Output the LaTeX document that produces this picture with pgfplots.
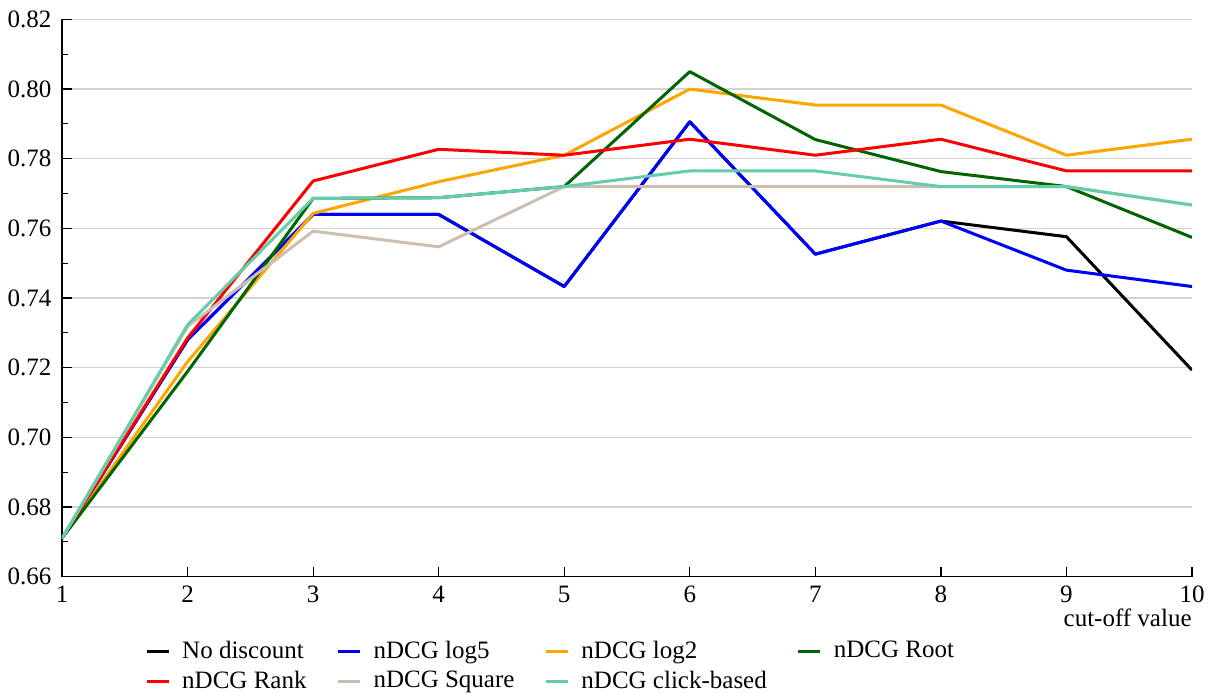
\documentclass[border=0pt]{standalone}
\usepackage{fontspec}
\setmainfont{Liberation Serif}
\usepackage{pgfplots}
\pgfplotsset{compat=1.18}
\definecolor{cteal}{RGB}{102,205,170}
\definecolor{cgray}{RGB}{204,191,177}
\definecolor{corange}{RGB}{255,165,0}
\definecolor{cgreen}{RGB}{0,100,0}
\begin{document}
\fontsize{12.5}{15}\selectfont
\begin{tikzpicture}
\useasboundingbox (-31pt,-58pt) rectangle (576pt,288.3pt);
\begin{axis}[
  at={(0,0)}, anchor=south west,
  scale only axis, width=565pt, height=278.6pt,
  xmin=1, xmax=10, ymin=0.66, ymax=0.82,
  xtick={1,...,10},
  ytick={0.66,0.68,...,0.82},
  minor y tick num=1,
  axis x line*=bottom, axis y line*=left,
  axis line style={black, line width=0.6pt},
  tick style={black, line width=0.6pt},
  tick align=inside,
  major tick length=5pt, minor tick length=3pt,
  ymajorgrids, major grid style={gray!35, line width=0.6pt},
  /pgf/number format/assume math mode=true,
  /pgf/number format/.cd, fixed, fixed zerofill, precision=2, /pgfplots/.cd,
  xticklabel style={/pgf/number format/precision=0, /pgf/number format/fixed zerofill=false, yshift=-0.5pt},
  yticklabel style={xshift=-1pt},
  tick label style={font=\fontsize{12.5}{15}\selectfont},
  xlabel={cut-off value},
  xlabel style={at={(rel axis cs:1,-0.058)}, anchor=north east, inner sep=0pt, font=\fontsize{12.5}{15}\selectfont},
  legend columns=4,
  legend style={at={(rel axis cs:0.068,-0.100)}, anchor=north west, draw=none, fill=none,
    font=\fontsize{12.5}{15}\selectfont,
    /tikz/every odd column/.append style={column sep=4pt},
    /tikz/every even column/.append style={column sep=13pt},
    row sep=0.5pt},
  legend cell align=left,
  legend image code/.code={\draw[#1, line width=1.5pt] (0pt,0pt) -- (11pt,0pt);},
  every axis plot/.append style={line width=1.5pt, line join=round},
]
\addplot[black] coordinates {(1,0.671) (2,0.728) (3,0.764) (4,0.764) (5,0.7433) (6,0.7906) (7,0.7526) (8,0.7621) (9,0.7576) (10,0.7193)};
\addlegendentry{No discount}
\addplot[blue] coordinates {(1,0.671) (2,0.728) (3,0.764) (4,0.764) (5,0.7433) (6,0.7906) (7,0.7526) (8,0.7621) (9,0.748) (10,0.7433)};
\addlegendentry{nDCG log5}
\addplot[corange] coordinates {(1,0.671) (2,0.7217) (3,0.7643) (4,0.7734) (5,0.781) (6,0.800) (7,0.7954) (8,0.7954) (9,0.781) (10,0.7856)};
\addlegendentry{nDCG log2}
\addplot[cgreen] coordinates {(1,0.671) (2,0.7189) (3,0.7686) (4,0.7688) (5,0.772) (6,0.805) (7,0.7855) (8,0.7763) (9,0.772) (10,0.7574)};
\addlegendentry{nDCG Root}
\addplot[red] coordinates {(1,0.671) (2,0.7285) (3,0.7736) (4,0.7827) (5,0.781) (6,0.7856) (7,0.781) (8,0.7856) (9,0.7765) (10,0.7765)};
\addlegendentry{nDCG Rank}
\addplot[cgray] coordinates {(1,0.671) (2,0.7318) (3,0.7592) (4,0.7547) (5,0.772) (6,0.772) (7,0.772) (8,0.772) (9,0.772) (10,0.7667)};
\addlegendentry{nDCG Square}
\addplot[cteal] coordinates {(1,0.671) (2,0.7323) (3,0.7686) (4,0.7688) (5,0.772) (6,0.7765) (7,0.7765) (8,0.772) (9,0.772) (10,0.7667)};
\addlegendentry{nDCG click-based}
\end{axis}
\end{tikzpicture}
\end{document}
